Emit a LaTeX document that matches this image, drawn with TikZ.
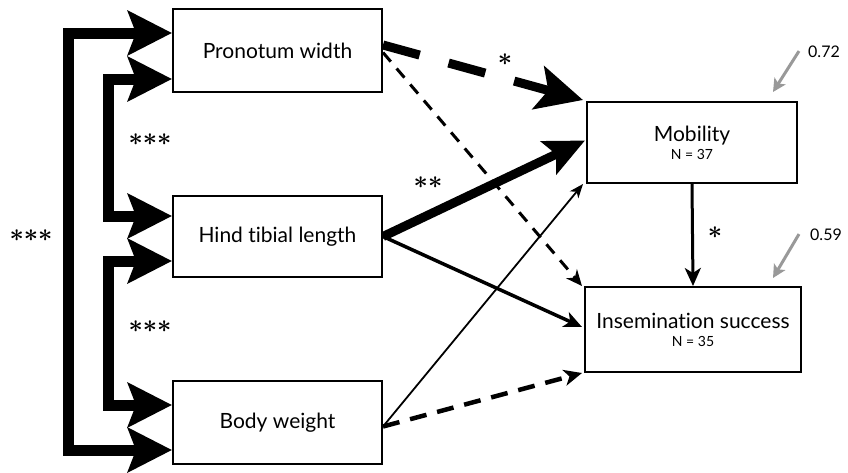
\documentclass[tikz,border=0pt]{standalone}
\usepackage{fontspec}
\setmainfont{Lato}[Ligatures=NoCommon]
\usetikzlibrary{arrows.meta}
\tikzset{
  boxnode/.style={draw, line width=2pt, minimum width=#1, inner sep=0pt, font=\fontsize{21}{22}\selectfont},
  bracket/.style={line width=11pt, line join=miter, {Stealth[length=44pt,width=44pt,inset=8pt]}-{Stealth[length=44pt,width=44pt,inset=8pt]}},
  bigdash/.style={line width=9pt, dash pattern=on 38pt off 30pt, -{Stealth[length=46pt,width=44pt,inset=10pt]}},
  bigsolid/.style={line width=9pt, -{Stealth[length=40pt,width=36pt,inset=8pt]}},
  midsolid/.style={line width=3.5pt, -{Stealth[length=18pt,width=16pt,inset=5pt]}},
  thinsolid/.style={line width=1.8pt, -{Stealth[length=14pt,width=11pt,inset=4pt]}},
  thindash/.style={line width=3pt, dash pattern=on 12pt off 9pt, -{Stealth[length=16pt,width=14pt,inset=5pt]}},
  middash/.style={line width=4.5pt, dash pattern=on 17pt off 11pt, -{Stealth[length=18pt,width=16pt,inset=5pt]}},
  grayarr/.style={draw=black!40, line width=3pt, -{Stealth[length=13pt,width=13pt,inset=3pt]}},
  star/.style={inner sep=0pt, font=\fontsize{25}{25}\selectfont\boldmath},
  num/.style={font=\fontsize{16}{17}\selectfont, inner sep=0pt}
}
\newcommand{\nlab}[1]{\\[-4pt]{\fontsize{14}{15}\selectfont #1}}
\newcommand{\three}{$\mathord{\ast}\mathord{\ast}\mathord{\ast}$}
\newcommand{\two}{$\mathord{\ast}\mathord{\ast}$}
\newcommand{\one}{$\mathord{\ast}$}
\begin{document}
\begin{tikzpicture}[x=1pt,y=-1pt]
\useasboundingbox (0,0) rectangle (848,472);
\node[boxnode=209pt, minimum height=83pt] (pw) at (277.5,50.5) {Pronotum width};
\node[boxnode=209pt, minimum height=81pt] (ht) at (277.5,236.5) {Hind tibial length};
\node[boxnode=209pt, minimum height=83pt] (bw) at (277.5,422.5) {Body weight};
\node[boxnode=210pt, minimum height=81pt, align=center] (mob) at (692,142.5) {Mobility\nlab{N = 37}};
\node[boxnode=216pt, minimum height=85pt, align=center] (ins) at (693,329.5) {Insemination success\nlab{N = 35}};

% left brackets
\draw[bracket] ([yshift=17.5pt]pw.west) -- ++(-104,0) |- ([yshift=-27.5pt]bw.west);
\draw[bracket] ([yshift=-28.5pt]pw.west) -- ++(-64,0) |- ([yshift=20.5pt]ht.west);
\draw[bracket] ([yshift=-24.5pt]ht.west) -- ++(-64,0) |- ([yshift=17.5pt]bw.west);
\node[star] (s1) at (31,236) {\three};
\node[star] (s2) at (150,140) {\three};
\node[star] (s3) at (150,327) {\three};

% paths
\draw[thindash] ([yshift=-2pt]pw.east) -- ([xshift=-2pt]ins.north west);
\draw[bigdash] ([yshift=5.5pt]pw.east) -- ([xshift=-3pt,yshift=1pt]mob.north west);
\node[star] (s4) at (505,60) {\one};
\draw[bigsolid] (ht.east) -- ([xshift=-1pt,yshift=2pt]mob.west);
\node[star] (s5) at (428,183) {\two};
\draw[midsolid] (ht.east) -- ([xshift=-2pt,yshift=2.5pt]ins.west);
\draw[thinsolid] ([yshift=-4pt]bw.east) -- ([xshift=-3pt]mob.south west);
\draw[middash] ([yshift=-4pt]bw.east) -- ([xshift=-2pt]ins.south west);
\draw[midsolid, line width=3pt] (mob.south) -- (ins.north);
\node[star] (s6) at (715,233) {\one};

% R^2
\node[num] (r1) at (824,52) {0.72};
\node[num] (r2) at (826,235) {0.59};
\coordinate (g1) at (773,92);
\coordinate (g2) at (773,278);
\draw[grayarr] ([xshift=-25pt,yshift=7pt]r1.south) -- (g1);
\draw[grayarr] ([xshift=-27pt,yshift=7pt]r2.south) -- (g2);
\end{tikzpicture}
\end{document}
